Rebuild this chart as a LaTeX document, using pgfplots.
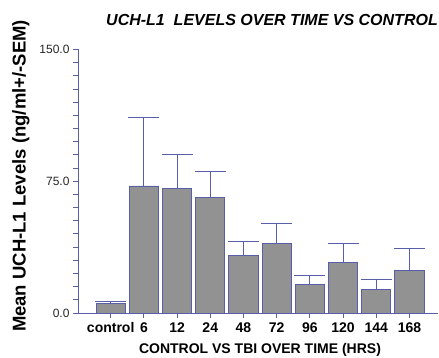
\documentclass[border=0pt]{standalone}
\usepackage{pgfplots}
\pgfplotsset{compat=1.18}
\usepackage{fontspec}
\setmainfont{Liberation Sans}
\definecolor{axblue}{RGB}{88,94,168}
\definecolor{bargray}{RGB}{146,146,146}
\begin{document}
\begin{tikzpicture}
\useasboundingbox (-78pt,-45pt) rectangle (361pt,313pt);
\begin{axis}[
  anchor=south west, at={(0,0)},
  scale only axis, width=360pt, height=263.5pt,
  xmin=-0.985, xmax=9.86, ymin=0, ymax=150,
  axis x line*=bottom, axis y line*=left,
  axis line style={-, axblue, line width=0.9pt},
  xtick={0,...,9},
  xticklabels={control,6,12,24,48,72,96,120,144,168},
  ytick={0,75,150},
  yticklabels={0.0,75.0,150.0},
  minor y tick num=9,
  xtick align=outside, ytick align=outside,
  major tick length=5pt, minor tick length=4.5pt,
  every tick/.style={axblue, line width=0.9pt},
  xticklabel style={font=\fontsize{14}{14}\selectfont\bfseries, yshift=-1pt},
  yticklabel style={font=\fontsize{12}{12}\selectfont, text=black!85},
  /pgf/number format/assume math mode=true,
  clip=false,
]
\addplot[ybar, bar width=29.3pt, fill=bargray, draw=axblue, line width=0.9pt,
  error bars/.cd, y dir=plus, y explicit,
  error bar style={axblue, line width=0.9pt},
  error mark options={axblue, line width=0.9pt, mark size=15.5pt, rotate=90}]
  table[x=x, y=y, y error=e] {
x y e
0 5.5 1.3
1 72.3 38.9
2 70.8 19.7
3 65.9 14.9
4 32.7 7.9
5 39.5 11.4
6 16.5 5.0
7 28.9 10.6
8 13.5 5.7
9 24.3 12.4
};
\end{axis}
\node[font=\fontsize{16}{16}\selectfont\bfseries\itshape] at (194pt,293pt) {UCH-L1\ \ LEVELS OVER TIME VS CONTROL};
\node[font=\fontsize{14}{14}\selectfont\bfseries] at (182pt,-37pt) {CONTROL VS TBI OVER TIME (HRS)};
\node[rotate=90, font=\fontsize{18.5}{18.5}\selectfont\bfseries] at (-57pt,137pt) {Mean UCH-L1 Levels (ng/ml+/-SEM)};
\end{tikzpicture}
\end{document}
